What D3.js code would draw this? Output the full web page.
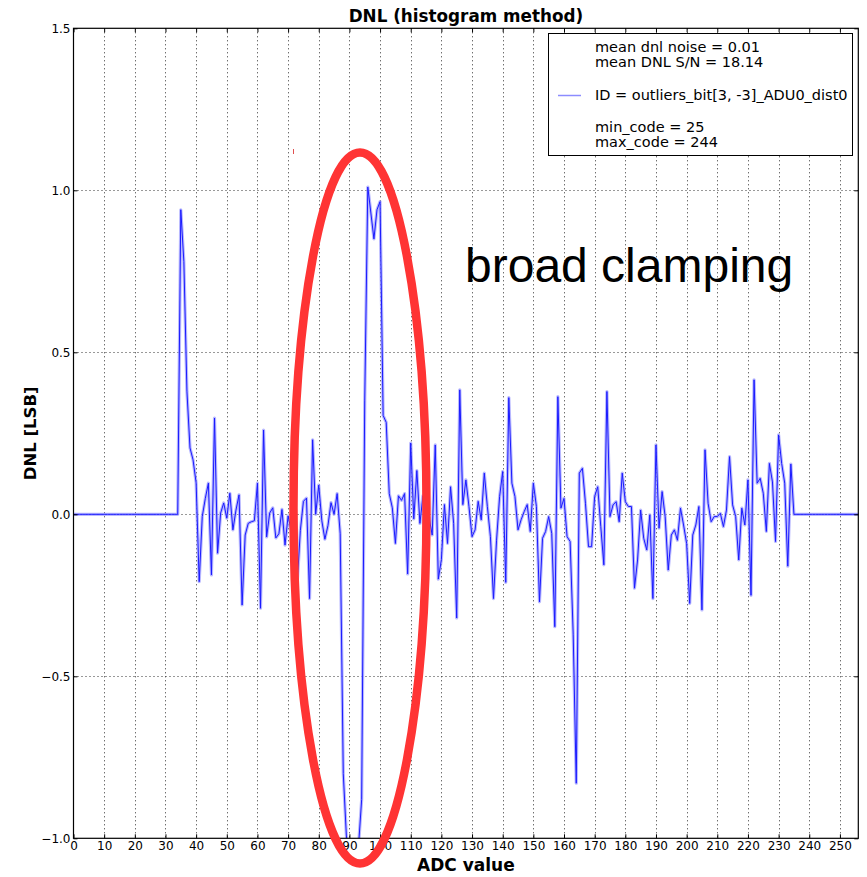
<!DOCTYPE html>
<html>
<head>
<meta charset="utf-8">
<script src="https://cdn.jsdelivr.net/npm/d3@7"></script>
<style>
  html, body { margin: 0; padding: 0; background: #fff; }
  svg { display: block; }
</style>
</head>
<body>
<svg id="chart" width="867" height="877"></svg>
<script>
// DNL per ADC code (index = code), histogram method
const dnl = [
  0, 0, 0, 0, 0, 0, 0, 0, 0, 0,
  0, 0, 0, 0, 0, 0, 0, 0, 0, 0,
  0, 0, 0, 0, 0, 0, 0, 0, 0, 0,
  0, 0, 0, 0, 0, 0.94, 0.78, 0.38, 0.205, 0.168,
  0.097, -0.208, -0.007, 0.049, 0.096, -0.187, 0.297, -0.12, 0.004, 0.035,
  -0.012, 0.065, -0.048, 0.013, 0.06, -0.28, -0.064, -0.028, -0.023, -0.02,
  0.096, -0.29, 0.26, -0.07, 0.004, 0.02, -0.073, -0.06, 0.015, -0.095,
  -0.005, -0.05, -0.15, -0.21, -0.05, 0.04, 0.05, -0.26, 0.23, 0.0,
  0.09, -0.02, -0.077, -0.035, 0.036, 0.0, 0.064, -0.06, -0.8, -0.99,
  -1.1, -1.2, -1.15, -1.02, -0.88, 0.35, 1.01, 0.93, 0.85, 0.94,
  0.965, 0.305, 0.284, 0.064, 0.02, -0.09, 0.057, 0.043, 0.064, -0.184,
  0.22, -0.014, 0.135, -0.028, 0.057, -0.007, -0.01, -0.064, 0.214, -0.2,
  -0.14, 0.03, -0.09, 0.085, -0.028, -0.32, 0.384, 0.03, 0.106, 0.024,
  -0.069, -0.048, 0.04, -0.017, 0.127, 0.024, -0.069, -0.26, -0.08, 0.055,
  0.132, -0.21, 0.36, 0.096, 0.055, -0.048, -0.017, 0.008, 0.03, -0.053,
  0.096, 0.024, -0.27, -0.074, -0.053, -0.007, -0.059, -0.347, 0.363, 0.019,
  0.049, -0.069, -0.084, -0.37, -0.83, 0.127, 0.142, 0.034, -0.1, -0.1,
  0.055, 0.085, -0.038, -0.156, 0.379, -0.007, 0.029, 0.039, -0.023, 0.127,
  0.039, 0.024, 0.024, -0.228, -0.141, 0.013, -0.074, -0.11, -0.002, -0.26,
  0.214, -0.043, 0.07, -0.007, -0.172, -0.064, -0.048, -0.08, 0.019, -0.033,
  -0.09, -0.275, -0.064, -0.033, 0.024, -0.295, 0.199, 0.034, -0.023, -0.007,
  -0.007, 0.003, -0.038, 0.013, 0.178, 0.029, -0.007, -0.141, 0.019, -0.033,
  0.106, -0.25, 0.415, 0.096, 0.111, 0.065, -0.053, 0.157, 0.1, -0.084,
  0.245, 0.157, 0.096, -0.16, 0.155, 0, 0, 0, 0, 0,
  0, 0, 0, 0, 0, 0, 0, 0, 0, 0,
  0, 0, 0, 0, 0, 0, 0
];

const xTicks = d3.range(0, 251, 10);
const yTicks = [-1.0, -0.5, 0.0, 0.5, 1.0, 1.5];

const legendLines = [
  "mean dnl noise = 0.01",
  "mean DNL S/N = 18.14",
  "ID = outliers_bit[3, -3]_ADU0_dist0",
  "min_code = 25",
  "max_code = 244"
];

const titleText = "DNL (histogram method)";
const xLabel = "ADC value";
const yLabel = "DNL [LSB]";
const noteText = "broad clamping";

(function draw() {
  const pL = 73.5, pR = 858.3, pT = 28.3, pB = 838.3;
  const x = d3.scaleLinear().domain([0, 256]).range([pL, pR]);
  const y = d3.scaleLinear().domain([-1.0, 1.5]).range([pB, pT]);

  const svg = d3.select("#chart");
  const font = "'DejaVu Sans', sans-serif";

  svg.append("defs").append("clipPath").attr("id", "plotClip")
    .append("rect").attr("x", pL).attr("y", pT)
    .attr("width", pR - pL).attr("height", pB - pT);

  // dotted grid
  const grid = svg.append("g");
  grid.selectAll("line.gx").data(xTicks.filter(t => t > 0)).join("line")
    .attr("x1", d => Math.round(x(d)) + 0.5).attr("x2", d => Math.round(x(d)) + 0.5)
    .attr("y1", pT).attr("y2", pB)
    .attr("stroke", "#333").attr("stroke-width", 1).attr("stroke-dasharray", "1,3");
  grid.selectAll("line.gy").data(yTicks.filter(t => t > -1 && t < 1.5)).join("line")
    .attr("y1", d => Math.round(y(d)) + 0.5).attr("y2", d => Math.round(y(d)) + 0.5)
    .attr("x1", pL).attr("x2", pR)
    .attr("stroke", "#333").attr("stroke-width", 1).attr("stroke-dasharray", "1,3");

  // DNL curve
  const line = d3.line().x((d, i) => x(i)).y(d => y(d));
  const plot = svg.append("g").attr("clip-path", "url(#plotClip)");
  plot.append("path").datum(dnl).attr("d", line)
    .attr("fill", "none").attr("stroke", "#9a9aff").attr("stroke-width", 3.2)
    .attr("stroke-linejoin", "round").attr("opacity", 0.7);
  plot.append("path").datum(dnl).attr("d", line)
    .attr("fill", "none").attr("stroke", "#1a1aff").attr("stroke-width", 1)
    .attr("stroke-linejoin", "round");

  // axes with inward ticks on all four sides
  const fmtY = d => d3.format(".1f")(d).replace("-", "\u2212");
  const axB = svg.append("g").attr("transform", `translate(0,${pB})`)
    .call(d3.axisBottom(x).tickValues(xTicks).tickSize(-4).tickPadding(3).tickFormat(d3.format("d")));
  const axT = svg.append("g").attr("transform", `translate(0,${pT})`)
    .call(d3.axisTop(x).tickValues(xTicks).tickSize(-4).tickFormat(""));
  const axL = svg.append("g").attr("transform", `translate(${pL},0)`)
    .call(d3.axisLeft(y).tickValues(yTicks).tickSize(-4).tickPadding(3).tickFormat(fmtY));
  const axR = svg.append("g").attr("transform", `translate(${pR},0)`)
    .call(d3.axisRight(y).tickValues(yTicks).tickSize(-4).tickFormat(""));
  [axB, axT, axL, axR].forEach(g => {
    g.select(".domain").remove();
    g.selectAll(".tick line").attr("stroke", "#000");
    g.selectAll("text").attr("font-family", font).attr("font-size", 12).attr("fill", "#000");
  });

  // frame
  svg.append("rect").attr("x", pL).attr("y", pT)
    .attr("width", pR - pL).attr("height", pB - pT)
    .attr("fill", "none").attr("stroke", "#000").attr("stroke-width", 1.2);

  // title and axis labels
  svg.append("text").attr("x", (pL + pR) / 2).attr("y", 22)
    .attr("text-anchor", "middle").attr("font-family", font).attr("font-weight", "bold")
    .attr("font-size", 16.8).text(titleText);
  svg.append("text").attr("x", (pL + pR) / 2).attr("y", 871)
    .attr("text-anchor", "middle").attr("font-family", font).attr("font-weight", "bold")
    .attr("font-size", 17).text(xLabel);
  svg.append("text").attr("transform", `translate(36,${(pT + pB) / 2}) rotate(-90)`)
    .attr("text-anchor", "middle").attr("font-family", font).attr("font-weight", "bold")
    .attr("font-size", 16.5).text(yLabel);

  // legend
  const lg = svg.append("g");
  lg.append("rect").attr("x", 548.5).attr("y", 33.5).attr("width", 304).attr("height", 122)
    .attr("fill", "#fff").attr("stroke", "#000").attr("stroke-width", 1);
  const legendY = [52, 67, 100, 132, 147];
  lg.selectAll("text").data(legendLines).join("text")
    .attr("x", 595).attr("y", (d, i) => legendY[i])
    .attr("font-family", font).attr("font-size", 14.5).attr("fill", "#000")
    .text(d => d);
  lg.append("line").attr("x1", 558).attr("x2", 581).attr("y1", 95.5).attr("y2", 95.5)
    .attr("stroke", "#8c8cff").attr("stroke-width", 1.5);

  // annotation
  svg.append("ellipse").attr("cx", 360).attr("cy", 508).attr("rx", 66.5).attr("ry", 355.5)
    .attr("fill", "none").attr("stroke", "#ff3434").attr("stroke-width", 8.5);
  svg.append("line").attr("x1", 293.5).attr("x2", 293.5).attr("y1", 149).attr("y2", 154)
    .attr("stroke", "#e05050").attr("stroke-width", 1);
  svg.append("text").attr("x", 465).attr("y", 282)
    .attr("font-family", "'Liberation Sans', Arial, sans-serif").attr("font-size", 48)
    .attr("fill", "#000").text(noteText);
})();
</script>
</body>
</html>
